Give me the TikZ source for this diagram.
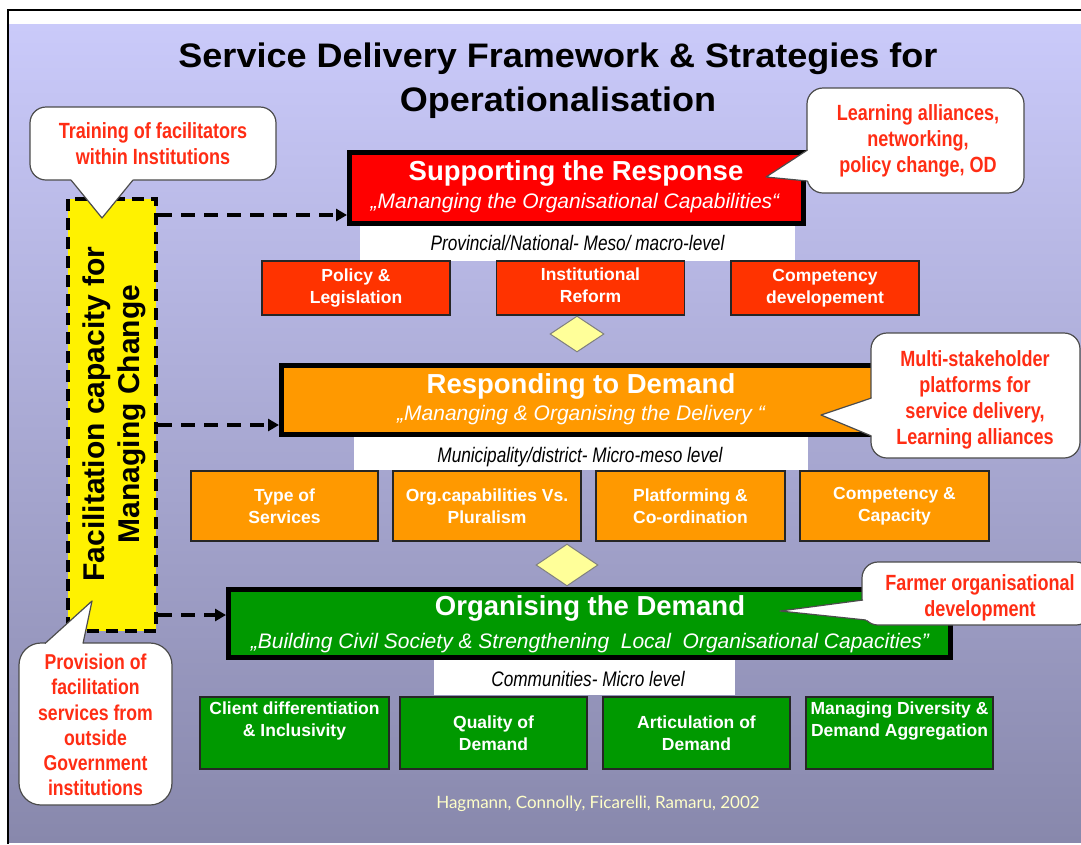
\documentclass[tikz,border=0pt]{standalone}
\usepackage{fontspec}
\setmainfont{Liberation Sans}
\newfontfamily\narrowfont[FakeStretch=0.82]{Liberation Sans}
\newfontfamily\titlefont[FakeStretch=1.06]{Liberation Sans}
\newfontfamily\citefont{Lato}
\usetikzlibrary{arrows.meta,shapes.geometric}

\definecolor{panelTop}{RGB}{202,202,250}
\definecolor{panelBot}{RGB}{136,136,172}
\definecolor{mainRed}{RGB}{255,0,0}
\definecolor{subRed}{RGB}{255,51,0}
\definecolor{mainOrange}{RGB}{255,153,0}
\definecolor{mainGreen}{RGB}{0,153,0}
\definecolor{paleYellow}{RGB}{255,255,153}
\definecolor{calloutRed}{RGB}{255,45,20}
\definecolor{citeYellow}{RGB}{255,255,200}

\begin{document}
\begin{tikzpicture}[x=1pt,y=-1pt,
  mainbox/.style={draw=black,line width=5pt,inner sep=0pt},
  subbox/.style={draw=black!85,line width=1.5pt,inner sep=2pt,text=white,align=center,
    font=\fontsize{17.5}{22}\selectfont\bfseries},
  subtext/.style={text=white,align=center,inner sep=0pt,font=\fontsize{17.5}{22}\selectfont\bfseries},
  band/.style={fill=white,draw=none},
  bandtext/.style={anchor=base,inner sep=0pt,font=\fontsize{21}{24}\selectfont\narrowfont\itshape},
  headtext/.style={anchor=base,inner sep=0pt,text=white,font=\fontsize{27.5}{32}\selectfont\bfseries},
  subhead/.style={anchor=base,inner sep=0pt,text=white,font=\fontsize{21}{24}\selectfont\itshape},
  gem/.style={diamond,draw=black!50,fill=paleYellow,line width=1pt,inner sep=0pt},
  callbox/.style={draw=black!70,fill=white,line width=1.2pt,rounded corners=16pt,inner sep=0pt},
  callline/.style={draw=black!70,line width=1.2pt,line join=round},
  calltext/.style={text=calloutRed,align=center,inner sep=0pt,
    font=\fontsize{22}{26}\selectfont\narrowfont\bfseries},
  dasharrow/.style={line width=3.5pt,dash pattern=on 14pt off 9pt,
    -{Triangle[length=11pt,width=12pt]}},
]
\useasboundingbox (0,0) rectangle (1081,844);
\clip (0,0) rectangle (1081,844);
\fill[white] (0,0) rectangle (1081,844);

% slide panel and frame
\shade[top color=panelTop,bottom color=panelBot] (9,24) rectangle (1081,842);
\draw[line width=2pt] (8,844) -- (8,10) -- (1081,10);

% title
\node[anchor=base,inner sep=0pt,font=\fontsize{34}{40}\selectfont\titlefont\bfseries] (title1) at (558,67)
  {Service Delivery Framework \& Strategies for};
\node[anchor=base,inner sep=0pt,font=\fontsize{34}{40}\selectfont\titlefont\bfseries] (title2) at (558,111)
  {Operationalisation};

% level bands
\fill[band] (360,226) rectangle (795,261);
\fill[band] (354,437) rectangle (808,470);
\fill[band] (434,660) rectangle (735,695);
\node[bandtext] (band1) at (577.5,250) {Provincial/National- Meso/ macro-level};
\node[bandtext] (band2) at (580,462) {Municipality/district- Micro-meso level};
\node[bandtext] (band3) at (588,686) {Communities- Micro level};

% level 1: supporting the response
\node[mainbox,fill=mainRed,minimum width=454pt,minimum height=71pt] (sup) at (576.5,188) {};
\node[headtext] (supT) at (576,180) {Supporting the Response};
\node[subhead] (supS) at (575,208) {„Mananging the Organisational Capabilities“};

\node[subbox,fill=subRed,minimum width=188pt,minimum height=54pt] (pol) at (356,288) {Policy \&\\Legislation};
\node[subbox,fill=subRed,minimum width=188pt,minimum height=54pt] (ins) at (590.5,288) {};
\node[subtext] (insT) at (590.5,288.5) {Institutional\\Reform\strut};
\node[subbox,fill=subRed,minimum width=188pt,minimum height=54pt] (cde) at (825,288) {Competency\\developement};

% level 2: responding to demand
\node[mainbox,fill=mainOrange,minimum width=596pt,minimum height=69pt] (res) at (579.5,400) {};
\node[headtext] (resT) at (581,393) {Responding to Demand};
\node[subhead] (resS) at (581,420) {„Mananging \& Organising the Delivery “};

\node[subbox,fill=mainOrange,minimum width=187pt,minimum height=70pt] (typ) at (284.5,506) {Type of\\Services};
\node[subbox,fill=mainOrange,minimum width=188pt,minimum height=70pt] (org) at (487,506) {Org.capabilities Vs.\\Pluralism};
\node[subbox,fill=mainOrange,minimum width=189pt,minimum height=70pt] (pla) at (690.5,506) {Platforming \&\\Co-ordination};
\node[subbox,fill=mainOrange,minimum width=189pt,minimum height=70pt] (cca) at (894.5,506) {Competency \&\\Capacity};

% level 3: organising the demand
\node[mainbox,fill=mainGreen,minimum width=722pt,minimum height=68pt] (orgd) at (589.5,623.5) {};
\node[headtext] (orgT) at (590,615) {Organising the Demand};
\node[subhead] (orgS) at (590,648) {„Building Civil Society \& Strengthening\ \ Local\ \ Organisational Capacities”};

\node[subbox,fill=mainGreen,minimum width=189pt,minimum height=72pt] (cli) at (294.5,733) {};
\node[subtext,anchor=north] (cliT) at (294.5,702) {Client differentiation\\\& Inclusivity};
\node[subbox,fill=mainGreen,minimum width=187pt,minimum height=72pt] (qua) at (493.5,733) {Quality of\\Demand};
\node[subbox,fill=mainGreen,minimum width=187pt,minimum height=72pt] (art) at (696.5,733) {Articulation of\\Demand};
\node[subbox,fill=mainGreen,minimum width=187pt,minimum height=72pt] (man) at (899.5,733) {};
\node[subtext,anchor=north] (manT) at (899.5,702) {Managing Diversity \&\\Demand Aggregation};

% diamonds between the levels
\node[gem,minimum width=54pt,minimum height=36pt] (gem1) at (577,334) {};
\node[gem,minimum width=62pt,minimum height=42pt] (gem2) at (567,565) {};

% facilitation bar
\node[draw=black,fill=yellow,line width=4pt,dash pattern=on 12pt off 7pt,
  minimum width=88pt,minimum height=432pt,inner sep=0pt] (fac) at (112,415) {};
\node[rotate=90,align=center,inner sep=0pt,font=\fontsize{30}{35}\selectfont\bfseries] (facT) at (114,414)
  {Facilitation capacity for\\Managing Change};

% dashed links from the bar to each level
\coordinate (lv1) at (0,215);
\coordinate (lv2) at (0,425);
\coordinate (lv3) at (0,615);
\draw[dasharrow] (fac.east |- lv1) -- (sup.west |- lv1);
\draw[dasharrow] (fac.east |- lv2) -- (res.west |- lv2);
\draw[dasharrow] (fac.east |- lv3) -- (orgd.west |- lv3);

% callout: training
\node[callbox,minimum width=246pt,minimum height=73pt] (cTrain) at (153,143.5) {};
\fill[white] (71,180) -- (102,218) -- (133,180) -- (133,175) -- (71,175) -- cycle;
\draw[callline] (71,180) -- (102,218) -- (133,180);
\node[calltext] (cTrainT) at (153,144) {Training of facilitators\\within Institutions};

% callout: learning alliances
\node[callbox,minimum width=217pt,minimum height=105pt] (cLearn) at (915.5,140.5) {};
\fill[white] (807.5,150) -- (766,177) -- (807.5,181) -- (812,181) -- (812,150) -- cycle;
\draw[callline] (807.5,150) -- (766,177) -- (807.5,181);
\node[calltext] (cLearnT) at (918,140.5) {Learning alliances,\\networking,\\policy change, OD};

% callout: multi-stakeholder
\node[callbox,minimum width=209pt,minimum height=125pt] (cMulti) at (975.5,395.5) {};
\fill[white] (871.5,398) -- (821,415) -- (871.5,436) -- (876,436) -- (876,398) -- cycle;
\draw[callline] (871.5,398) -- (821,415) -- (871.5,436);
\node[calltext] (cMultiT) at (975,399.5) {Multi-stakeholder\\platforms for\\service delivery,\\Learning alliances};

% callout: farmer organisational development
\node[callbox,minimum width=230pt,minimum height=63pt] (cFarm) at (977,593.5) {};
\fill[white] (863,600) -- (780,611) -- (866,620) -- (870,620) -- (870,600) -- cycle;
\draw[callline] (863,600) -- (780,611) -- (866,620);
\node[calltext] (cFarmT) at (980,598) {Farmer organisational\\development};

% callout: provision of facilitation services
\node[callbox,rounded corners=22pt,minimum width=153pt,minimum height=162pt] (cProv) at (95.5,724) {};
\fill[white] (45,643.5) -- (92,601) -- (83,643.5) -- (83,648) -- (45,648) -- cycle;
\draw[callline] (45,643.5) -- (92,601) -- (83,643.5);
\node[calltext,font=\fontsize{21.5}{25.2}\selectfont\narrowfont\bfseries] (cProvT) at (95.5,725)
  {Provision of\\facilitation\\services from\\outside\\Government\\institutions};

% source
\node[inner sep=0pt,text=citeYellow,font=\fontsize{17}{20}\selectfont\citefont] (cite) at (598,804)
  {Hagmann, Connolly, Ficarelli, Ramaru, 2002};
\end{tikzpicture}
\end{document}
